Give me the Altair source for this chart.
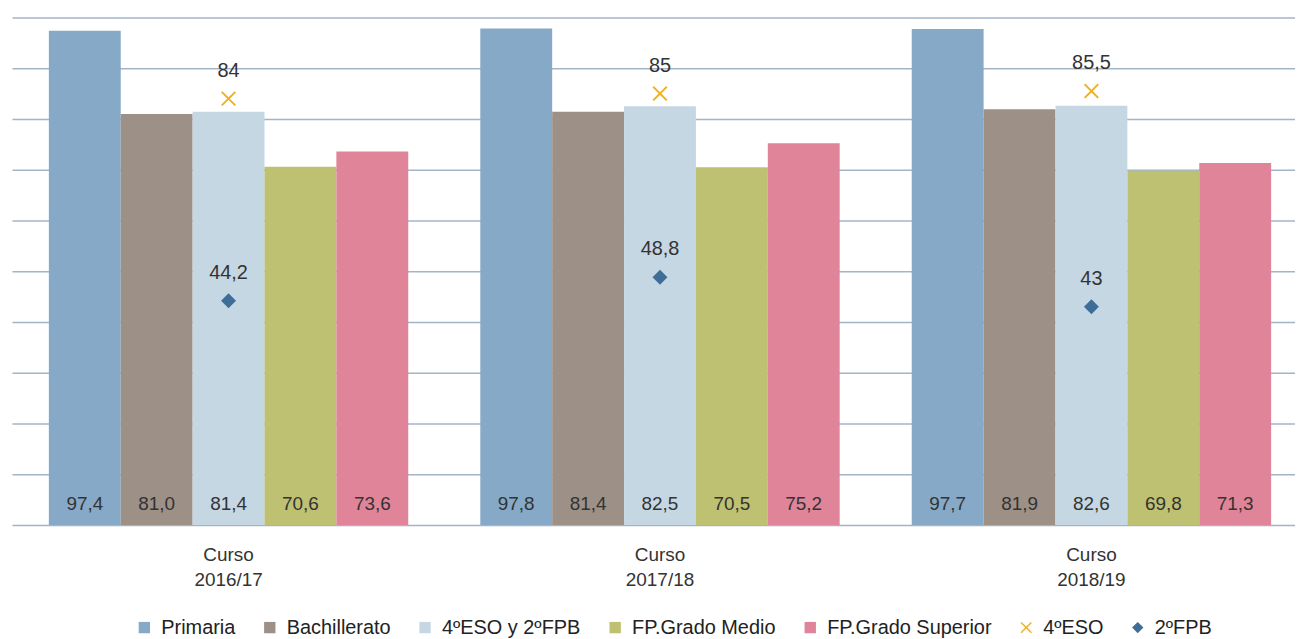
import altair as alt
import pandas as pd

courses = ["Curso 2016/17", "Curso 2017/18", "Curso 2018/19"]
bar_series = ["Primaria", "Bachillerato", "4ºESO y 2ºFPB", "FP.Grado Medio", "FP.Grado Superior"]
primaria = [97.4, 97.8, 97.7]
bachillerato = [81.0, 81.4, 81.9]
eso_fpb = [81.4, 82.5, 82.6]
fp_medio = [70.6, 70.5, 69.8]
fp_superior = [73.6, 75.2, 71.3]
point_series = ["4ºESO", "2ºFPB"]
eso4 = [84, 85, 85.5]
fpb2 = [44.2, 48.8, 43]

all_series = bar_series + point_series
colors = ["#86A9C7", "#9D9087", "#C6D7E4", "#BEC172", "#E0849A", "#F2B01E", "#3E6E98"]
xpath = "M-1,-0.82L-0.82,-1L0,-0.18L0.82,-1L1,-0.82L0.18,0L1,0.82L0.82,1L0,0.18L-0.82,1L-1,0.82L-0.18,0Z"
shapes = ["square"] * 5 + [xpath, "diamond"]

FONT = "Liberation Sans"

bar_rows = []
for s, vals in zip(bar_series, [primaria, bachillerato, eso_fpb, fp_medio, fp_superior]):
    for c, v in zip(courses, vals):
        bar_rows.append({"course": c, "series": s, "slot": s, "value": v,
                         "label": f"{v:.1f}".replace(".", ",")})
bars_df = pd.DataFrame(bar_rows)

pt_rows = []
for s, vals in zip(point_series, [eso4, fpb2]):
    for c, v in zip(courses, vals):
        pt_rows.append({"course": c, "series": s, "slot": "4ºESO y 2ºFPB", "value": v,
                        "label": ("%g" % v).replace(".", ",")})
pts_df = pd.DataFrame(pt_rows)

x_enc = alt.X("course:N", sort=courses, title=None,
              scale=alt.Scale(paddingInner=0.167, paddingOuter=0.0704, align=0.607),
              axis=alt.Axis(labelExpr="split(datum.value, ' ')", labelAngle=0, domain=False,
                            ticks=False, labelFontSize=19, labelColor="#333333", labelFont=FONT,
                            labelLineHeight=25, labelPadding=21, labelBaseline="top"))
xoff = alt.XOffset("slot:N", sort=bar_series,
                   scale=alt.Scale(domain=bar_series, paddingInner=0, paddingOuter=0))
y_enc = alt.Y("value:Q", title=None,
              scale=alt.Scale(domain=[0, 100], nice=False),
              axis=alt.Axis(values=list(range(0, 101, 10)), labels=False, ticks=False,
                            domain=False, grid=True, gridColor="#A3B4C8", gridWidth=1.6))

legend = alt.Legend(title=None, orient="none", legendX=123, legendY=603, columns=7,
                    direction="horizontal", labelFont=FONT, labelFontSize=20,
                    labelColor="#222222", symbolSize=130, labelOffset=7, columnPadding=24,
                    symbolOpacity=1, symbolStrokeWidth=0, padding=0, labelLimit=0)
color = alt.Color("series:N", scale=alt.Scale(domain=all_series, range=colors), legend=legend)
shape = alt.Shape("series:N", scale=alt.Scale(domain=all_series, range=shapes), legend=legend)

bars = alt.Chart(bars_df).mark_bar().encode(x=x_enc, xOffset=xoff, y=y_enc, color=color)

bar_labels = alt.Chart(bars_df).mark_text(
    dy=-15, baseline="alphabetic", fontSize=19, font=FONT, color="#333333"
).encode(x=x_enc, xOffset=xoff, y=alt.datum(0), text="label:N")

points = alt.Chart(pts_df).mark_point(filled=True, opacity=1, size=225, strokeWidth=0).encode(
    x=x_enc, xOffset=xoff, y=y_enc, color=color, shape=shape)

pt_labels = alt.Chart(pts_df).mark_text(
    dy=-22, baseline="alphabetic", fontSize=20, font=FONT, color="#333333"
).encode(x=x_enc, xOffset=xoff, y=y_enc, text="label:N")

chart = alt.layer(bars, bar_labels, points, pt_labels).properties(
    width=1289, height=510,
    autosize=alt.AutoSizeParams(type="none"),
    padding={"left": 4, "top": 8, "right": 0, "bottom": 114},
).configure(background="white", view=alt.ViewConfig(stroke=None))

chart.save("out.html", embed_options={"renderer": "svg", "actions": False})
